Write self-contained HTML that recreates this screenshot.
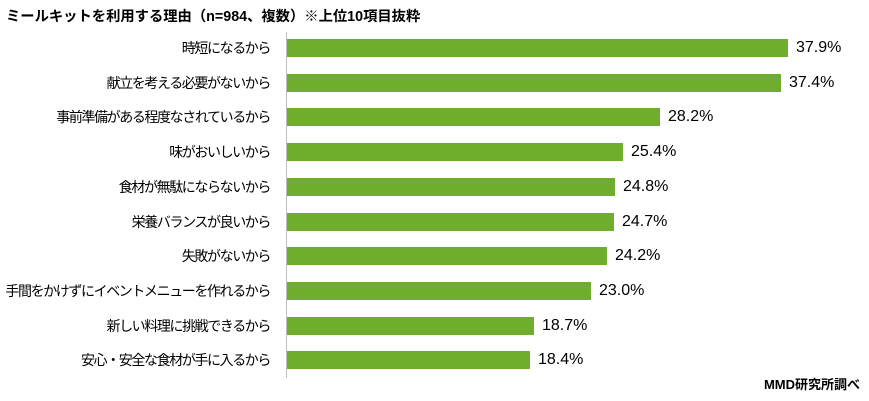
<!DOCTYPE html>
<html><head><meta charset="utf-8"><style>
body{margin:0;background:#fff;width:869px;height:401px;position:relative;overflow:hidden;font-family:"Liberation Sans","Noto Sans CJK JP",sans-serif;}
.t{position:absolute;left:6px;top:5px;font-size:14.3px;font-weight:bold;color:#000;}
.ax{position:absolute;left:286px;top:32px;width:1px;height:346px;background:#bfbfbf;}
.l{position:absolute;right:599px;font-size:14px;letter-spacing:-1.4px;color:#000;white-space:nowrap;line-height:18px;}
.b{position:absolute;left:287px;height:18px;background:#70ad2f;}
.v{position:absolute;font-size:16px;color:#000;line-height:18px;}
.s{position:absolute;right:9px;top:374px;font-size:13px;font-weight:bold;}
</style></head><body>
<div class="t">ミールキットを利用する理由（n=984、複数）※上位10項目抜粋</div>
<div class="ax"></div>
<div id="c"></div>
<div class="s">MMD研究所調べ</div>
<script>
var d=[["時短になるから",37.9],["献立を考える必要がないから",37.4],["事前準備がある程度なされているから",28.2],["味がおいしいから",25.4],["食材が無駄にならないから",24.8],["栄養バランスが良いから",24.7],["失敗がないから",24.2],["手間をかけずにイベントメニューを作れるから",23.0],["新しい料理に挑戦できるから",18.7],["安心・安全な食材が手に入るから",18.4]];
var h="";d.forEach(function(e,i){var y=Math.round(39+i*34.7);var w=Math.round(e[1]*13.22);
h+='<div class="l" style="top:'+y+'px">'+e[0]+'</div><div class="b" style="top:'+y+'px;width:'+w+'px"></div><div class="v" style="top:'+y+'px;left:'+(287+w+8)+'px">'+e[1].toFixed(1)+'%</div>';});
document.getElementById("c").innerHTML=h;
</script>
</body></html>
